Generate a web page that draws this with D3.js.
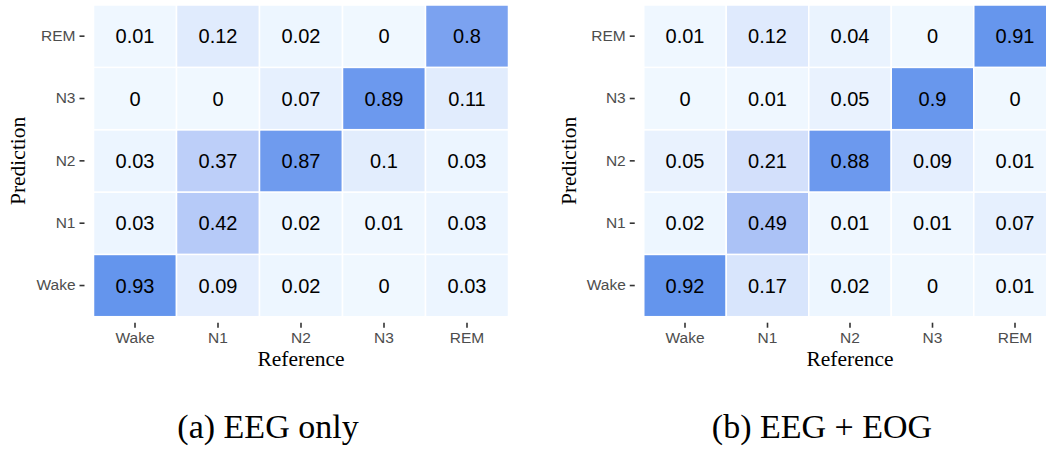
<!DOCTYPE html>
<html>
<head>
<meta charset="utf-8">
<script src="https://cdn.jsdelivr.net/npm/d3@7"></script>
<style>
  html, body { margin: 0; padding: 0; background: #fff; }
  svg { display: block; }
</style>
</head>
<body>
<svg id="chart" width="1046" height="449"></svg>
<script>
// ---- Data ----
const stages = ["Wake", "N1", "N2", "N3", "REM"];           // reference (x) and prediction (y) categories
// rows = prediction (Wake..REM), columns = reference (Wake..REM)
const eegOnly = [
  [0.93, 0.09, 0.02, 0,    0.03], // Wake
  [0.03, 0.42, 0.02, 0.01, 0.03], // N1
  [0.03, 0.37, 0.87, 0.1,  0.03], // N2
  [0,    0,    0.07, 0.89, 0.11], // N3
  [0.01, 0.12, 0.02, 0,    0.8 ]  // REM
];
const eegEog = [
  [0.92, 0.17, 0.02, 0,    0.01], // Wake
  [0.02, 0.49, 0.01, 0.01, 0.07], // N1
  [0.05, 0.21, 0.88, 0.09, 0.01], // N2
  [0,    0.01, 0.05, 0.9,  0   ], // N3
  [0.01, 0.12, 0.04, 0,    0.91]  // REM
];
const captions = ["(a) EEG only", "(b) EEG + EOG"];
const xTitle = "Reference";
const yTitle = "Prediction";

// ---- Layout ----
const svg = d3.select("#chart");
const panels = [
  { data: eegOnly, left: 93.5, width: 415, caption: captions[0], titleX: 18 },
  { data: eegEog,  left: 643.75, width: 412.5, caption: captions[1], titleX: 568.5 }
];
const panelTop = 5, panelH = 311.7;
const sans = "'Liberation Sans', Arial, Helvetica, sans-serif";
const serif = "'Liberation Serif', 'Times New Roman', Times, serif";

panels.forEach(p => {
  const g = svg.append("g");
  const x = d3.scaleBand().domain(stages).range([p.left, p.left + p.width]);
  const y = d3.scaleBand().domain(stages).range([panelTop + panelH, panelTop]);
  const maxV = d3.max(p.data.flat());
  const color = d3.scaleLinear().domain([0, maxV]).range(["#F0F8FF", "#6495ED"]).interpolate(d3.interpolateLab);

  const cells = [];
  p.data.forEach((row, i) => row.forEach((v, j) => cells.push({ pred: stages[i], ref: stages[j], v })));

  g.selectAll("rect.cell").data(cells).enter().append("rect")
    .attr("class", "cell")
    .attr("x", d => x(d.ref))
    .attr("y", d => y(d.pred))
    .attr("width", x.bandwidth())
    .attr("height", y.bandwidth())
    .attr("fill", d => color(d.v))
    .attr("stroke", "#fff")
    .attr("stroke-width", 1.5);

  g.selectAll("text.val").data(cells).enter().append("text")
    .attr("class", "val")
    .attr("x", d => x(d.ref) + x.bandwidth() / 2)
    .attr("y", d => y(d.pred) + y.bandwidth() / 2)
    .attr("dy", "0.36em")
    .attr("text-anchor", "middle")
    .attr("font-family", sans)
    .attr("font-size", 20)
    .attr("fill", "#000")
    .text(d => String(d.v));

  // axes
  const ax = g.append("g")
    .attr("transform", `translate(0,${panelTop + panelH + 6})`)
    .call(d3.axisBottom(x).tickSize(5).tickPadding(4));
  const ay = g.append("g")
    .attr("transform", `translate(${p.left - 9},0)`)
    .call(d3.axisLeft(y).tickSize(5).tickPadding(4));
  [ax, ay].forEach(a => {
    a.select(".domain").remove();
    a.selectAll(".tick line").attr("stroke", "#333").attr("stroke-width", 1.6);
    a.selectAll(".tick text").attr("font-family", sans).attr("font-size", 15.5).attr("fill", "#4D4D4D");
  });

  // axis titles
  g.append("text")
    .attr("x", p.left + p.width / 2)
    .attr("y", 366)
    .attr("text-anchor", "middle")
    .attr("font-family", serif)
    .attr("font-size", 21.5)
    .attr("fill", "#000")
    .text(xTitle);
  g.append("text")
    .attr("transform", `translate(${p.titleX + 7},${panelTop + panelH / 2}) rotate(-90)`)
    .attr("text-anchor", "middle")
    .attr("font-family", serif)
    .attr("font-size", 21.5)
    .attr("fill", "#000")
    .text(yTitle);
});

// captions
svg.append("text").attr("x", 268).attr("y", 438).attr("text-anchor", "middle")
  .attr("font-family", serif).attr("font-size", 34).attr("fill", "#000").text(captions[0]);
svg.append("text").attr("x", 822).attr("y", 438).attr("text-anchor", "middle")
  .attr("font-family", serif).attr("font-size", 34).attr("fill", "#000").text(captions[1]);
</script>
</body>
</html>
